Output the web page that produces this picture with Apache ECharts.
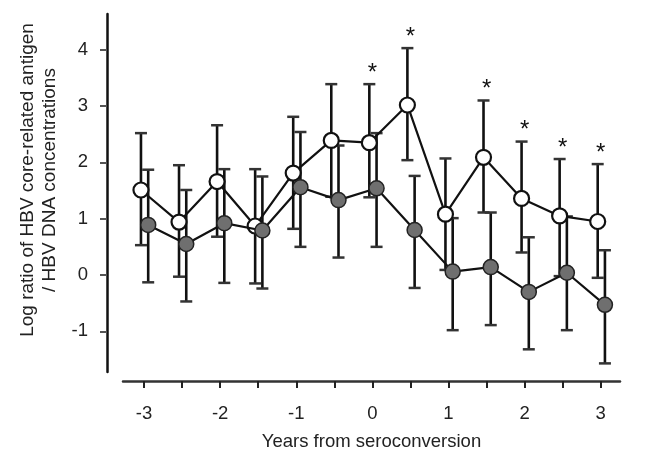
<!DOCTYPE html>
<html>
<head>
<meta charset="utf-8">
<script src="https://cdn.jsdelivr.net/npm/echarts@6/dist/echarts.min.js"></script>
<style>
html,body{margin:0;padding:0;background:#fff;}
#chart{width:651px;height:458px;}
</style>
</head>
<body>
<div id="chart"></div>
<script>
// ---- data ----
var years = [-3, -2.5, -2, -1.5, -1, -0.5, 0, 0.5, 1, 1.5, 2, 2.5, 3];
var openMean  = [1.51, 0.94, 1.66, 0.87, 1.81, 2.39, 2.35, 3.02, 1.08, 2.09, 1.36, 1.05, 0.95];
var openUpper = [2.52, 1.95, 2.66, 1.88, 2.81, 3.39, 3.39, 4.03, 2.07, 3.10, 2.37, 2.06, 1.97];
var openLower = [0.53, -0.03, 0.68, -0.15, 0.82, 1.39, 1.38, 2.04, 0.09, 1.11, 0.40, -0.02, -0.05];
var filledMean  = [0.89, 0.55, 0.92, 0.79, 1.56, 1.33, 1.54, 0.80, 0.06, 0.14, -0.30, 0.04, -0.53];
var filledUpper = [1.87, 1.51, 1.88, 1.75, 2.54, 2.30, 2.52, 1.76, 1.01, 1.11, 0.67, 1.04, 0.44];
var filledLower = [-0.13, -0.47, -0.14, -0.24, 0.50, 0.31, 0.50, -0.23, -0.98, -0.89, -1.32, -0.98, -1.57];
var significant = [0, 0, 0, 0, 0, 0, 1, 1, 0, 1, 1, 1, 1];
var xTickValues = [-3, -2.5, -2, -1.5, -1, -0.5, 0, 0.5, 1, 1.5, 2, 2.5, 3];
var xLabelValues = [-3, -2, -1, 0, 1, 2, 3];
var yTickValues = [-1, 0, 1, 2, 3, 4];
var xTitle = 'Years from seroconversion';
var yTitle = 'Log ratio of HBV core-related antigen\n/ HBV DNA concentrations';

// ---- presentation ----
var openDodge = -0.04, filledDodge = 0.055;
var FONT = 'Liberation Sans, Arial, Helvetica, sans-serif';
var FS = 18.5;

function errData(mean, up, lo, dodge) {
  return years.map(function (x, i) { return [x + dodge, lo[i], up[i]]; });
}
function errRender(params, api) {
  var x = api.value(0);
  var lo = api.coord([x, api.value(1)]);
  var hi = api.coord([x, api.value(2)]);
  var hw = 6;
  return {
    type: 'group',
    children: [
      { type: 'line', shape: { x1: hi[0], y1: hi[1], x2: lo[0], y2: lo[1] }, style: { stroke: '#111', lineWidth: 2.6 } },
      { type: 'line', shape: { x1: hi[0] - hw, y1: hi[1], x2: hi[0] + hw, y2: hi[1] }, style: { stroke: '#333', lineWidth: 2.5 } },
      { type: 'line', shape: { x1: lo[0] - hw, y1: lo[1], x2: lo[0] + hw, y2: lo[1] }, style: { stroke: '#333', lineWidth: 2.5 } }
    ]
  };
}
var starData = [];
years.forEach(function (x, i) { if (significant[i]) starData.push([x, openUpper[i]]); });

var chart = echarts.init(document.getElementById('chart'), null, { renderer: 'canvas' });
chart.setOption({
  animation: false,
  backgroundColor: '#fff',
  textStyle: { fontFamily: FONT },
  grid: { left: 123, right: 31, top: 14, bottom: 86 },
  xAxis: {
    type: 'value', min: -3.276, max: 3.253, offset: 9,
    splitLine: { show: false },
    axisLine: { show: true, onZero: false, lineStyle: { color: '#333', width: 2.5 } },
    axisTick: { show: true, customValues: xTickValues, length: 7, lineStyle: { color: '#222', width: 2 } },
    axisLabel: { customValues: xLabelValues, margin: 23, fontSize: FS, color: '#222', fontFamily: FONT },
    name: xTitle, nameLocation: 'middle', nameGap: 51,
    nameTextStyle: { fontSize: FS, color: '#222', fontFamily: FONT }
  },
  yAxis: {
    type: 'value', min: -1.723, max: 4.636, offset: 16,
    splitLine: { show: false },
    axisLine: { show: true, onZero: false, lineStyle: { color: '#111', width: 2.5 } },
    axisTick: { show: true, customValues: yTickValues, length: 7, lineStyle: { color: '#555', width: 2 } },
    axisLabel: { customValues: yTickValues, margin: 19, fontSize: FS, color: '#222', fontFamily: FONT },
    name: yTitle, nameLocation: 'middle', nameGap: 41, nameRotate: 90,
    nameTextStyle: { fontSize: 19, color: '#222', fontFamily: FONT, lineHeight: 22, align: 'center', padding: [0, 0, 0, 26] }
  },
  series: [
    { type: 'custom', renderItem: errRender, data: errData(openMean, openUpper, openLower, openDodge), z: 1, silent: true,
      encode: { x: 0, y: [1, 2] } },
    { type: 'custom', renderItem: errRender, data: errData(filledMean, filledUpper, filledLower, filledDodge), z: 1, silent: true,
      encode: { x: 0, y: [1, 2] } },
    { type: 'line', z: 3, data: years.map(function (x, i) { return [x + openDodge, openMean[i]]; }),
      symbol: 'circle', symbolSize: 15, showSymbol: true,
      lineStyle: { color: '#111', width: 2.2 },
      itemStyle: { color: '#fff', borderColor: '#111', borderWidth: 2.2 } },
    { type: 'line', z: 4, data: years.map(function (x, i) { return [x + filledDodge, filledMean[i]]; }),
      symbol: 'circle', symbolSize: 15, showSymbol: true,
      lineStyle: { color: '#111', width: 2.2 },
      itemStyle: { color: '#6f6f6f', borderColor: '#222', borderWidth: 1.5 } },
    { type: 'custom', z: 5, data: starData, encode: { x: 0, y: 1 },
      renderItem: function (params, api) {
        var p = api.coord([api.value(0), api.value(1)]);
        return { type: 'text', x: p[0], y: p[1] + 1,
          style: { text: '*', fontSize: 24, fontFamily: FONT, fill: '#111', align: 'center', verticalAlign: 'bottom' } };
      } }
  ]
});
</script>
</body>
</html>
